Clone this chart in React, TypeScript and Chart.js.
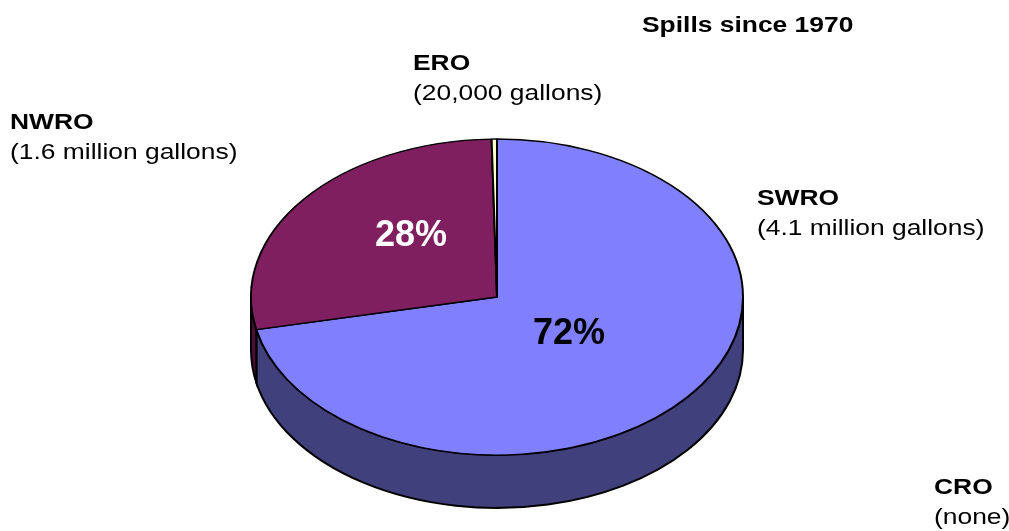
import React, { useEffect, useRef } from "react";
import { Chart, registerables } from "chart.js";

Chart.register(...registerables);

// Spill volumes by regional office
const regions = ["SWRO", "NWRO", "ERO", "CRO"];
const gallons = [4100000, 1600000, 20000, 0];
const volumeNotes = ["(4.1 million gallons)", "(1.6 million gallons)", "(20,000 gallons)", "(none)"];
const topColors = ["#8080FF", "#7F1F5F", "#FFFFCC", "#CCFFFF"];
const sideColors = ["#40407C", "#4A0F36", "#80806A", "#668080"];
const chartTitle = "Spills since 1970";

// Layout of the tilted pie and its callouts
const W = 1009;
const H = 531;
const CX = 497;
const CY = 297;
const RX = 246;
const RY = 158;
const DEPTH = 53;
const FONT = '"Liberation Sans", Arial, sans-serif';
const TEXT_STRETCH = 1.2;

const calloutPos: Record<string, [number, number]> = {
  SWRO: [757, 205],
  NWRO: [10, 129],
  ERO: [413, 70],
  CRO: [934, 494],
};
const pctPos: Record<string, [number, number]> = {
  SWRO: [569, 331],
  NWRO: [411, 233],
};

function stretchedText(ctx: CanvasRenderingContext2D, text: string, x: number, y: number, sx: number) {
  ctx.save();
  ctx.translate(x, y);
  ctx.scale(sx, 1);
  ctx.fillText(text, 0, 0);
  ctx.restore();
}

const tiltPlugin = {
  id: "tilt3d",
  beforeDatasetsDraw(chart: any) {
    const ctx: CanvasRenderingContext2D = chart.ctx;
    const meta = chart.getDatasetMeta(0);
    const k = RY / RX;
    ctx.save();
    // side walls on the front half of the pie
    meta.data.forEach((arc: any, i: number) => {
      const { x, y, startAngle, endAngle, outerRadius } = arc.getProps(
        ["x", "y", "startAngle", "endAngle", "outerRadius"],
        true
      );
      if (endAngle - startAngle <= 0) return;
      const rx = outerRadius;
      const ry = outerRadius * k;
      for (let shift = -2 * Math.PI; shift <= 2 * Math.PI; shift += 2 * Math.PI) {
        const s = Math.max(startAngle + shift, 0);
        const e = Math.min(endAngle + shift, Math.PI);
        if (e <= s) continue;
        ctx.beginPath();
        ctx.ellipse(x, y, rx, ry, 0, s, e, false);
        ctx.ellipse(x, y + DEPTH, rx, ry, 0, e, s, true);
        ctx.closePath();
        ctx.fillStyle = sideColors[i];
        ctx.fill();
        ctx.lineWidth = 2;
        ctx.strokeStyle = "#000";
        ctx.stroke();
      }
    });
    ctx.restore();
    // flatten the top face
    const first = meta.data[0];
    ctx.save();
    ctx.translate(first.x, first.y);
    ctx.scale(1, k);
    ctx.translate(-first.x, -first.y);
  },
  afterDatasetsDraw(chart: any) {
    chart.ctx.restore();
  },
  afterDraw(chart: any) {
    const ctx: CanvasRenderingContext2D = chart.ctx;
    const total = gallons.reduce((a, b) => a + b, 0);
    ctx.save();
    ctx.textBaseline = "alphabetic";
    ctx.textAlign = "left";
    ctx.fillStyle = "#000";
    ctx.font = `bold 22px ${FONT}`;
    stretchedText(ctx, chartTitle, 642, 32, TEXT_STRETCH);
    regions.forEach((r, i) => {
      const [x, y] = calloutPos[r];
      ctx.fillStyle = "#000";
      ctx.font = `bold 22px ${FONT}`;
      stretchedText(ctx, r, x, y, TEXT_STRETCH);
      ctx.font = `22px ${FONT}`;
      stretchedText(ctx, volumeNotes[i], x, y + 30, TEXT_STRETCH);
    });
    ctx.textAlign = "center";
    ctx.font = `bold 36px ${FONT}`;
    regions.forEach((r, i) => {
      const share = gallons[i] / total;
      if (share < 0.05 || !pctPos[r]) return;
      const [x, y] = pctPos[r];
      ctx.fillStyle = i === 1 ? "#FFFFFF" : "#000000";
      ctx.fillText(`${Math.round(share * 100)}%`, x, y + 13);
    });
    ctx.restore();
  },
};

export default function App() {
  const ref = useRef<HTMLCanvasElement>(null);
  useEffect(() => {
    if (!ref.current) return;
    const chart = new Chart(ref.current, {
      type: "pie",
      data: {
        labels: regions,
        datasets: [
          {
            data: gallons,
            backgroundColor: topColors,
            borderColor: "#000000",
            borderWidth: 2,
            radius: RX,
          },
        ],
      },
      options: {
        responsive: false,
        animation: false,
        events: [],
        layout: {
          padding: {
            left: CX - RX,
            right: W - (CX + RX),
            top: 100,
            bottom: H - (2 * CY - 100),
          },
        },
        plugins: {
          legend: { display: false },
          title: { display: false },
          tooltip: { enabled: false },
        },
      },
      plugins: [tiltPlugin],
    });
    return () => chart.destroy();
  }, []);
  return (
    <div style={{ position: "fixed", left: 0, top: 0, width: W, height: H, background: "#fff" }}>
      <canvas ref={ref} width={W} height={H} />
    </div>
  );
}
